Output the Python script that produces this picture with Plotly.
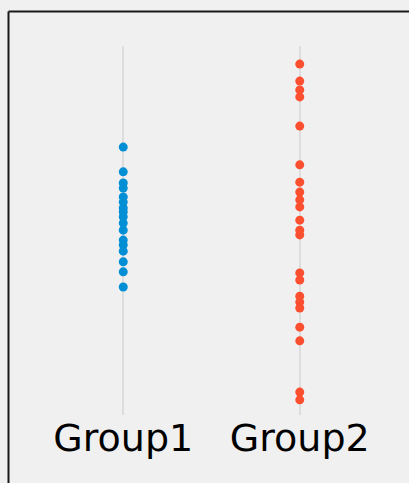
import plotly.graph_objects as go

categories = ["Group1", "Group2"]
group1_values = [72.6, 65.9, 62.9, 61.5, 59.1, 57.7, 56.1, 55.0, 53.7, 52.0,
                 50.1, 47.4, 46.1, 44.4, 41.5, 38.8, 34.7]
group2_values = [95.1, 90.5, 88.1, 86.2, 78.3, 67.8, 63.1, 60.4, 58.3, 56.4,
                 52.8, 50.1, 48.8, 38.5, 36.6, 32.2, 30.6, 29.0, 23.8, 20.1,
                 6.2, 4.1]
colors = ["#008fd5", "#fc4f30"]

W, H = 409, 483
ml, mr, mt, mb = 35, 21, 46, 68
pw, ph = W - ml - mr, H - mt - mb

fig = go.Figure()
for cat, vals, col in zip(categories, [group1_values, group2_values], colors):
    fig.add_trace(go.Scatter(
        x=[cat] * len(vals), y=vals, mode="markers",
        marker=dict(size=9, color=col, line=dict(width=0)),
        showlegend=False, hoverinfo="y"))

# outer frame (dark border at top-left, running off the image)
fx = (8.5 - ml) / pw
fy = (H - mb - 11.5) / ph
fig.add_shape(type="line", xref="paper", yref="paper", x0=fx, x1=fx, y0=fy, y1=-0.5,
              line=dict(color="#1a1a1a", width=2))
fig.add_shape(type="line", xref="paper", yref="paper", x0=fx, x1=1.5, y0=fy, y1=fy,
              line=dict(color="#1a1a1a", width=2))

fig.update_layout(
    width=W, height=H,
    margin=dict(l=ml, r=mr, t=mt, b=mb),
    paper_bgcolor="#f0f0f0", plot_bgcolor="#f0f0f0",
    font=dict(family="DejaVu Sans", color="#000000"),
    xaxis=dict(type="category", categoryorder="array", categoryarray=categories,
               range=[-0.5, 1.5], showgrid=True, gridcolor="#dddddd", gridwidth=1.5,
               zeroline=False, showline=False, ticks="", tickfont=dict(size=38),
               ticklabelstandoff=-3, fixedrange=True),
    yaxis=dict(range=[0, 100], showgrid=False, zeroline=False, showline=False,
               showticklabels=False, ticks="", fixedrange=True),
)

fig.write_html("out.html", config={"displayModeBar": False},
               post_script="document.body.style.margin='0';document.body.style.background='#f0f0f0';")
